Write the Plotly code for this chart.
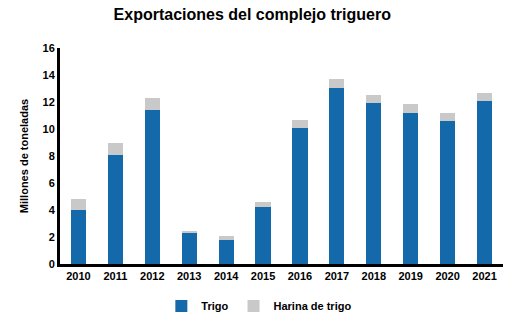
import plotly.graph_objects as go

years = ["2010", "2011", "2012", "2013", "2014", "2015", "2016", "2017", "2018", "2019", "2020", "2021"]
trigo = [4.0, 8.07, 11.41, 2.37, 1.78, 4.22, 10.07, 13.04, 11.93, 11.19, 10.59, 12.07]
harina = [0.81, 0.89, 0.89, 0.07, 0.29, 0.37, 0.6, 0.66, 0.59, 0.66, 0.6, 0.6]

font = "Liberation Sans"
fig = go.Figure()
fig.add_trace(go.Bar(x=years, y=trigo, name="<b>Trigo</b>", marker_color="#1469AA", marker_line_width=0))
fig.add_trace(go.Bar(x=years, y=harina, name="<b>Harina de trigo</b>", marker_color="#C9C9C9", marker_line_width=0))

fig.update_layout(
    barmode="stack",
    bargap=0.59,
    width=518, height=326,
    margin=dict(l=60, r=15, t=48, b=62, autoexpand=False),
    paper_bgcolor="white", plot_bgcolor="white",
    font=dict(family=font, size=11, color="black"),
    title=dict(text="<b>Exportaciones del complejo triguero</b>", x=0.487, xanchor="center",
               y=0.955, yanchor="middle", font=dict(size=16, family=font, color="black")),
    legend=dict(orientation="h", x=0.45, xanchor="center", yref="container", y=0.061, yanchor="middle",
                font=dict(size=11, family=font), itemwidth=30, traceorder="normal",
                entrywidth=0),
    showlegend=True,
)
fig.update_xaxes(showline=True, linecolor="black", linewidth=3, ticks="", tickfont=dict(size=11, family=font),
                 tickprefix="<b>", ticksuffix="</b>")
fig.update_yaxes(range=[0, 16], dtick=2, showline=True, linecolor="black", linewidth=3, showgrid=False,
                 ticks="", zeroline=False, tickprefix="<b>", ticksuffix="</b>",
                 title=dict(text="<b>Millones de toneladas</b>", font=dict(size=11, family=font), standoff=12))
fig.write_html("out.html")
